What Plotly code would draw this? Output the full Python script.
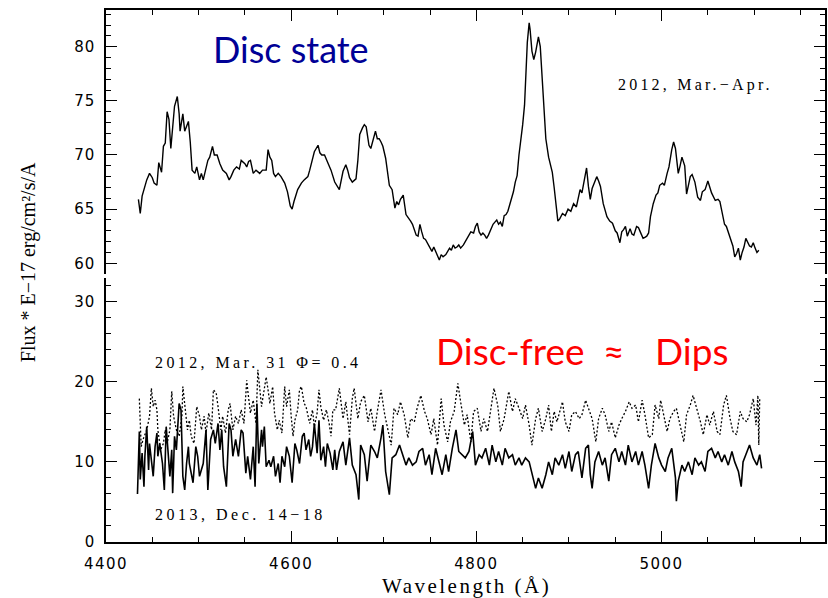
import plotly.graph_objects as go

# ---------------- data ----------------
disc_wavelength = [
    4435, 4437, 4439, 4441, 4444, 4447, 4450, 4452, 4455, 4457,
    4460, 4462, 4464, 4466, 4468, 4470, 4472, 4474, 4477, 4479,
    4480, 4483, 4485, 4487, 4489, 4491, 4493, 4496, 4498, 4501,
    4503, 4505, 4508, 4510, 4512, 4515, 4517, 4520, 4523, 4526,
    4530, 4533, 4535, 4538, 4541, 4544, 4546, 4550, 4552, 4554,
    4556, 4559, 4562, 4566, 4569, 4573, 4575, 4577, 4579, 4581,
    4583, 4586, 4589, 4593, 4596, 4599, 4601, 4603, 4607, 4611,
    4614, 4618, 4620, 4623, 4625, 4629, 4631, 4633, 4636, 4640,
    4643, 4647, 4650, 4652, 4656, 4659, 4661, 4663, 4666, 4670,
    4672, 4674, 4677, 4679, 4681, 4684, 4686, 4688, 4691, 4693,
    4695, 4697, 4699, 4702, 4706, 4709, 4712, 4714, 4716, 4718,
    4721, 4724, 4727, 4729, 4731, 4733, 4735, 4737, 4739, 4741,
    4743, 4745, 4748, 4750, 4752, 4754, 4756, 4758, 4760, 4762,
    4764, 4767, 4769, 4771, 4773, 4775, 4777, 4779, 4781, 4783,
    4786, 4788, 4790, 4792, 4794, 4797, 4799, 4801, 4803, 4805,
    4807, 4809, 4811, 4813, 4816, 4818, 4820, 4822, 4824, 4826,
    4828, 4830, 4832, 4834, 4836, 4838, 4840, 4842, 4844, 4846,
    4848, 4850, 4852, 4853, 4855, 4857, 4858, 4860, 4862, 4864,
    4866, 4867, 4869, 4871, 4873, 4875, 4878, 4880, 4882, 4884,
    4886, 4888, 4890, 4893, 4896, 4899, 4902, 4905, 4908, 4910,
    4912, 4914, 4916, 4919, 4921, 4923, 4925, 4927, 4930, 4932,
    4934, 4937, 4941, 4944, 4947, 4950, 4952, 4955, 4957, 4959,
    4961, 4963, 4966, 4968, 4970, 4973, 4975, 4977, 4980, 4982,
    4984, 4986, 4988, 4991, 4994, 4996, 4998, 5001, 5003, 5006,
    5008, 5011, 5013, 5015, 5016, 5018, 5020, 5022, 5025, 5027,
    5029, 5031, 5033, 5036, 5039, 5042, 5044, 5047, 5050, 5052,
    5054, 5058, 5061, 5063, 5066, 5068, 5070, 5073, 5075, 5077,
    5079, 5081, 5083, 5085, 5087, 5089, 5091, 5093, 5095, 5097,
    5099, 5101, 5103, 5105,
]
disc_flux = [
    65.9, 64.6, 66.2, 66.8, 67.7, 68.3, 67.9, 67.4, 67.2, 69.3,
    68.4, 70.8, 71.1, 74.0, 73.3, 70.6, 72.9, 74.5, 75.4, 73.8,
    72.2, 73.8, 72.2, 72.6, 73.1, 71.2, 68.6, 68.3, 68.9, 67.7,
    68.3, 67.7, 68.9, 69.5, 69.8, 70.8, 70.0, 70.0, 69.2, 68.6,
    68.3, 67.7, 68.0, 68.6, 68.9, 68.7, 69.5, 69.2, 68.9, 69.4,
    69.5, 68.3, 68.6, 68.3, 68.6, 68.6, 70.5, 69.8, 69.5, 68.3,
    68.0, 68.3, 68.0, 67.4, 66.6, 65.3, 65.0, 65.7, 66.8, 67.4,
    67.7, 68.0, 68.6, 69.5, 70.3, 70.9, 70.2, 70.0, 70.0, 69.2,
    68.6, 67.5, 67.1, 66.8, 68.5, 69.1, 68.6, 67.9, 67.5, 67.8,
    69.5, 71.9, 72.5, 72.8, 72.6, 70.9, 70.6, 71.2, 72.2, 71.5,
    71.5, 71.2, 70.8, 69.7, 67.2, 66.8, 65.1, 65.7, 65.4, 65.9,
    66.3, 64.5, 64.2, 63.9, 63.6, 63.1, 62.6, 62.5, 63.6, 62.9,
    62.3, 62.2, 61.7, 61.4, 61.1, 61.5, 61.1, 60.8, 60.3, 60.8,
    60.6, 60.8, 61.1, 61.4, 61.2, 61.7, 61.4, 61.5, 61.7, 61.4,
    61.7, 62.0, 62.2, 62.5, 62.9, 62.8, 63.4, 63.7, 62.9, 62.6,
    62.8, 62.6, 62.3, 62.6, 63.2, 63.6, 63.8, 64.0, 63.6, 63.8,
    63.4, 64.4, 64.5, 64.8, 65.4, 66.0, 66.6, 67.5, 68.1, 70.0,
    71.2, 72.8, 74.6, 77.0, 80.4, 82.2, 81.6, 79.6, 78.8, 79.5,
    80.6, 80.9, 80.0, 76.8, 74.4, 71.5, 69.8, 69.0, 68.4, 67.0,
    65.6, 63.9, 64.1, 64.6, 64.4, 65.0, 64.8, 65.5, 65.2, 66.0,
    66.8, 66.5, 67.3, 68.8, 67.1, 65.9, 66.9, 67.4, 68.0, 67.6,
    67.1, 65.5, 64.3, 63.9, 63.7, 63.0, 62.8, 61.9, 62.9, 63.1,
    63.4, 62.5, 63.2, 62.7, 62.6, 63.4, 63.3, 62.9, 62.3, 62.4,
    62.5, 62.8, 64.3, 65.5, 66.3, 66.5, 67.2, 67.4, 67.2, 68.3,
    68.9, 70.5, 71.2, 70.6, 69.8, 68.3, 69.0, 69.8, 69.0, 66.4,
    67.2, 68.0, 68.2, 67.5, 66.1, 65.8, 66.6, 66.8, 67.6, 67.0,
    66.5, 65.8, 65.9, 65.7, 64.4, 63.6, 63.4, 62.6, 62.0, 61.6,
    60.6, 60.9, 61.4, 60.3, 61.0, 61.5, 62.3, 62.0, 61.6, 61.5,
    61.9, 61.4, 61.0, 61.2,
]

mar31_wavelength = [
    4436, 4438, 4440, 4444, 4447, 4449, 4451, 4453, 4455, 4456,
    4459, 4462, 4464, 4466, 4469, 4471, 4473, 4476, 4479, 4482,
    4483, 4485, 4488, 4490, 4492, 4495, 4498, 4501, 4503, 4506,
    4508, 4511, 4514, 4516, 4519, 4521, 4524, 4526, 4529, 4532,
    4534, 4537, 4540, 4543, 4546, 4549, 4552, 4553, 4556, 4559,
    4562, 4564, 4566, 4568, 4569, 4573, 4575, 4577, 4580, 4582,
    4585, 4587, 4590, 4593, 4595, 4598, 4600, 4602, 4604, 4607,
    4609, 4611, 4614, 4616, 4620, 4623, 4625, 4628, 4630, 4632,
    4635, 4638, 4641, 4643, 4645, 4648, 4652, 4656, 4659, 4663,
    4666, 4668, 4672, 4675, 4679, 4683, 4686, 4690, 4693, 4697,
    4701, 4704, 4708, 4711, 4715, 4718, 4722, 4726, 4729, 4733,
    4736, 4740, 4744, 4747, 4751, 4754, 4758, 4762, 4765, 4769,
    4772, 4776, 4780, 4783, 4787, 4790, 4794, 4797, 4801, 4805,
    4808, 4812, 4815, 4819, 4823, 4826, 4830, 4835, 4839, 4842,
    4846, 4850, 4853, 4857, 4860, 4864, 4867, 4871, 4875, 4878,
    4881, 4884, 4887, 4891, 4893, 4896, 4900, 4903, 4907, 4911,
    4914, 4918, 4921, 4925, 4929, 4932, 4936, 4939, 4943, 4946,
    4950, 4954, 4957, 4961, 4965, 4968, 4972, 4975, 4979, 4982,
    4986, 4990, 4993, 4997, 4999, 5002, 5006, 5009, 5013, 5016,
    5020, 5024, 5027, 5031, 5034, 5038, 5042, 5045, 5049, 5052,
    5056, 5060, 5063, 5067, 5070, 5074, 5077, 5081, 5085, 5088,
    5092, 5095, 5099, 5102, 5104, 5105, 5106,
]
mar31_flux = [
    17.9, 11.9, 12.8, 14.0, 15.7, 19.2, 16.9, 17.7, 16.5, 14.0,
    11.5, 12.3, 14.0, 12.3, 14.0, 18.8, 15.7, 14.0, 13.2, 15.7,
    19.4, 17.3, 14.0, 15.2, 13.2, 12.3, 16.9, 15.7, 14.0, 15.7,
    13.6, 16.1, 14.0, 19.0, 18.6, 16.9, 14.0, 15.7, 13.6, 16.5,
    17.3, 14.0, 15.7, 14.8, 16.5, 14.8, 20.2, 19.0, 16.1, 17.7,
    14.8, 21.5, 19.0, 16.9, 17.7, 20.6, 19.0, 17.3, 19.4, 16.1,
    14.0, 15.2, 13.6, 19.4, 16.9, 19.0, 15.7, 13.2, 15.2, 16.5,
    19.0, 19.4, 17.3, 16.9, 14.8, 16.5, 14.4, 16.1, 19.0, 16.9,
    15.2, 16.5, 14.8, 13.2, 16.5, 16.5, 19.2, 15.4, 17.5, 13.4,
    17.9, 19.2, 15.4, 17.5, 18.3, 15.0, 16.7, 13.8, 16.3, 19.0,
    15.9, 14.2, 12.1, 16.7, 15.9, 17.5, 15.9, 13.0, 15.4, 15.0,
    16.7, 18.3, 16.3, 15.4, 13.4, 15.4, 12.1, 17.9, 14.6, 12.5,
    15.0, 16.3, 19.8, 17.5, 14.6, 15.9, 12.5, 16.3, 16.7, 13.8,
    15.4, 13.8, 16.3, 19.2, 17.1, 13.8, 15.4, 18.8, 16.3, 17.9,
    16.7, 15.4, 17.1, 14.6, 12.1, 15.4, 16.7, 13.8, 15.4, 17.1,
    13.8, 16.3, 15.0, 16.7, 17.5, 15.0, 13.8, 15.9, 16.3, 15.4,
    15.9, 17.7, 16.7, 15.4, 12.5, 15.4, 16.7, 15.9, 13.8, 15.0,
    13.0, 14.6, 15.4, 16.3, 17.5, 16.7, 17.1, 15.0, 17.7, 15.9,
    13.0, 13.4, 17.1, 15.4, 17.7, 15.9, 13.8, 15.4, 16.3, 16.7,
    14.6, 12.5, 15.9, 17.1, 18.3, 16.7, 15.0, 13.4, 15.9, 14.6,
    16.3, 13.8, 13.4, 17.1, 18.3, 15.4, 13.8, 13.4, 16.3, 15.4,
    15.0, 15.9, 17.9, 14.6, 18.3, 12.1, 17.9,
]

dec_wavelength = [
    4434, 4436, 4437, 4439, 4441, 4442, 4444, 4446, 4447, 4449,
    4451, 4453, 4455, 4456, 4458, 4461, 4463, 4465, 4467, 4469,
    4471, 4472, 4474, 4476, 4479, 4481, 4483, 4485, 4487, 4489,
    4490, 4494, 4497, 4499, 4501, 4505, 4508, 4510, 4513, 4516,
    4518, 4521, 4523, 4525, 4527, 4530, 4533, 4535, 4537, 4540,
    4543, 4546, 4548, 4551, 4553, 4556, 4559, 4561, 4563, 4565,
    4568, 4569, 4571, 4573, 4576, 4578, 4581, 4583, 4586, 4588,
    4590, 4593, 4595, 4598, 4601, 4604, 4606, 4609, 4612, 4614,
    4616, 4619, 4621, 4623, 4625, 4628, 4630, 4632, 4635, 4637,
    4639, 4642, 4645, 4647, 4649, 4652, 4656, 4659, 4663, 4666,
    4670, 4673, 4675, 4679, 4682, 4686, 4690, 4693, 4697, 4699,
    4702, 4706, 4709, 4713, 4717, 4720, 4724, 4727, 4731, 4735,
    4738, 4742, 4745, 4749, 4752, 4756, 4760, 4763, 4767, 4770,
    4774, 4778, 4781, 4785, 4788, 4792, 4796, 4799, 4803, 4806,
    4810, 4814, 4817, 4821, 4824, 4828, 4831, 4835, 4839, 4842,
    4846, 4849, 4853, 4857, 4860, 4864, 4867, 4871, 4875, 4878,
    4882, 4885, 4889, 4893, 4896, 4900, 4903, 4907, 4910, 4914,
    4918, 4921, 4923, 4925, 4928, 4932, 4936, 4939, 4943, 4946,
    4950, 4954, 4957, 4961, 4964, 4968, 4972, 4975, 4979, 4982,
    4986, 4989, 4993, 4997, 5000, 5004, 5007, 5011, 5015, 5016,
    5018, 5022, 5025, 5029, 5033, 5036, 5040, 5043, 5047, 5050,
    5054, 5058, 5061, 5065, 5068, 5072, 5076, 5079, 5083, 5086,
    5088, 5092, 5095, 5099, 5103, 5106, 5108,
]
dec_flux = [
    6.0, 13.8, 7.8, 11.1, 6.9, 10.7, 14.4, 9.0, 12.3, 9.8,
    8.2, 11.9, 13.6, 10.7, 12.3, 9.8, 6.5, 14.4, 10.7, 8.2,
    11.5, 6.1, 13.2, 11.5, 17.3, 16.5, 8.2, 6.5, 9.8, 11.9,
    9.8, 7.4, 11.9, 10.7, 8.2, 9.8, 14.0, 6.5, 12.8, 14.0,
    12.3, 14.8, 11.5, 14.0, 9.4, 6.9, 14.8, 14.0, 10.7, 12.8,
    10.7, 14.0, 13.6, 8.6, 10.7, 7.8, 11.9, 6.9, 17.3, 9.8,
    14.0, 11.9, 14.4, 9.4, 10.2, 9.4, 10.7, 8.2, 9.8, 7.4,
    10.7, 9.4, 11.9, 10.7, 7.4, 12.3, 11.5, 9.8, 13.2, 13.6,
    11.5, 12.8, 10.7, 11.9, 14.8, 11.1, 15.2, 10.2, 11.9, 9.4,
    12.3, 11.1, 9.0, 11.5, 9.0, 11.3, 12.5, 9.6, 13.0, 9.6,
    8.4, 5.3, 12.1, 10.9, 7.6, 12.1, 11.3, 10.5, 13.0, 14.6,
    8.8, 5.9, 10.5, 10.9, 12.1, 10.9, 9.6, 10.5, 9.6, 10.0,
    11.3, 11.7, 9.6, 10.9, 8.4, 11.7, 9.6, 8.4, 10.9, 8.8,
    11.7, 14.0, 11.3, 10.9, 10.5, 11.3, 13.8, 9.6, 10.9, 10.5,
    11.7, 9.6, 12.1, 10.0, 11.3, 9.6, 11.7, 10.5, 10.9, 9.6,
    10.5, 9.6, 10.5, 10.0, 8.4, 6.7, 8.0, 6.7, 8.4, 10.0,
    8.4, 10.5, 9.6, 10.9, 9.2, 11.3, 8.8, 10.9, 11.3, 8.0,
    11.7, 12.1, 8.4, 6.7, 10.0, 11.3, 9.6, 10.5, 7.6, 10.9,
    11.7, 10.0, 11.3, 9.6, 12.1, 10.0, 11.3, 9.6, 11.3, 9.6,
    6.7, 9.6, 12.3, 10.5, 9.6, 8.8, 10.5, 11.7, 8.0, 5.1,
    7.6, 9.6, 8.8, 10.0, 8.4, 10.5, 9.6, 10.0, 8.8, 11.3,
    11.7, 10.5, 11.3, 10.0, 10.9, 9.6, 11.3, 10.0, 8.8, 6.9,
    10.0, 11.3, 12.1, 10.5, 9.6, 10.9, 9.2,
]

x_tick_values = [4400, 4600, 4800, 5000]
top_tick_values = [60, 65, 70, 75, 80]
bottom_tick_values = [0, 10, 20, 30]

# ---------------- layout geometry ----------------
W, H = 828, 598
ML, MR, MT, MB = 106, 1, 10, 56
PW = W - ML - MR
PH = H - MT - MB


def fx(px):
    return (px - ML) / PW


def fy(py):
    return (H - MB - py) / PH


def spaced(text, s):
    return f'<span style="letter-spacing:{s}px">{text}</span>'


fig = go.Figure()
fig.add_trace(go.Scatter(x=disc_wavelength, y=disc_flux, xaxis='x2', yaxis='y2',
                         mode='lines', line=dict(color='black', width=1.4),
                         hoverinfo='skip'))
fig.add_trace(go.Scatter(x=mar31_wavelength, y=mar31_flux, xaxis='x', yaxis='y',
                         mode='lines', line=dict(color='black', width=1.3, dash='2px,2px'),
                         hoverinfo='skip'))
fig.add_trace(go.Scatter(x=dec_wavelength, y=dec_flux, xaxis='x', yaxis='y',
                         mode='lines', line=dict(color='black', width=1.6),
                         hoverinfo='skip'))

tickfont = dict(family='DejaVu Sans', size=15, color='black')
base = dict(showline=True, linecolor='black', linewidth=1.5, ticks='inside',
            ticklen=11, tickwidth=1.2, tickcolor='black', showgrid=False,
            zeroline=False, fixedrange=True)


def minor(dt, t0):
    return dict(ticks='inside', ticklen=5, tickwidth=1.2, tickcolor='black',
                dtick=dt, tick0=t0, showgrid=False)


x_range = [4400, 5176.5]
fig.update_layout(
    width=W, height=H, margin=dict(l=ML, r=MR, t=MT, b=MB),
    paper_bgcolor='white', plot_bgcolor='white', showlegend=False,
    xaxis=dict(base, domain=[0, 1], range=x_range, anchor='y', side='bottom',
               tickmode='array', tickvals=x_tick_values,
               ticktext=[spaced(v, 1.5) for v in x_tick_values],
               tickfont=tickfont, ticklabelstandoff=7, minor=minor(50, 4400)),
    xaxis2=dict(base, domain=[0, 1], range=x_range, anchor='y2', side='top',
                tickmode='array', tickvals=x_tick_values, showticklabels=False,
                minor=minor(50, 4400)),
    yaxis=dict(base, domain=[0, fy(278)], range=[0, 32.96], anchor='x',
               tickmode='array', tickvals=bottom_tick_values,
               ticktext=[spaced(v, 1) for v in bottom_tick_values],
               tickfont=tickfont, ticklabelstandoff=6, mirror='ticks',
               minor=minor(2, 0)),
    yaxis2=dict(base, domain=[fy(274), 1], range=[59.01, 83.39], anchor='x2',
                tickmode='array', tickvals=top_tick_values,
                ticktext=[spaced(v, 1) for v in top_tick_values],
                tickfont=tickfont, ticklabelstandoff=6, mirror='ticks',
                minor=minor(1, 0)),
)

serif = 'Liberation Serif'
ann = [
    dict(text='Disc state', x=fx(211), y=fy(49), xanchor='left', yanchor='middle',
         font=dict(family='Lato', size=36, color='#000096')),
    dict(text=spaced('2012, Mar.\u2212Apr.', 3.2), x=fx(617), y=fy(85),
         xanchor='left', yanchor='middle', font=dict(family=serif, size=16, color='black')),
    dict(text=spaced('2012, Mar. 31 \u03a6= 0.4', 3.4), x=fx(153), y=fy(362),
         xanchor='left', yanchor='middle', font=dict(family=serif, size=16, color='black')),
    dict(text=spaced('2013, Dec. 14\u221218', 3.5), x=fx(153), y=fy(514),
         xanchor='left', yanchor='middle', font=dict(family=serif, size=16, color='black')),
    dict(text='Disc-free', x=fx(435), y=fy(350), xanchor='left', yanchor='middle',
         font=dict(family='Lato', size=37, color='#ff0000')),
    dict(text='\u2248', x=fx(615), y=fy(350), xanchor='center', yanchor='middle',
         font=dict(family='Lato', size=37, color='#ff0000')),
    dict(text='Dips', x=fx(655), y=fy(350), xanchor='left', yanchor='middle',
         font=dict(family='Lato', size=37, color='#ff0000')),
    dict(text=spaced('Wavelength (\u00c5)', 2.5), x=fx(468), y=fy(586),
         xanchor='center', yanchor='middle', font=dict(family=serif, size=21, color='black')),
    dict(text='Flux * E\u221217 erg/cm\u00b2/s/A', x=fx(28), y=fy(262),
         xanchor='center', yanchor='middle', textangle=-90,
         font=dict(family=serif, size=20, color='black')),
]
for a in ann:
    a.update(xref='paper', yref='paper', showarrow=False)
fig.update_layout(annotations=ann)

fig.write_html('out.html')
